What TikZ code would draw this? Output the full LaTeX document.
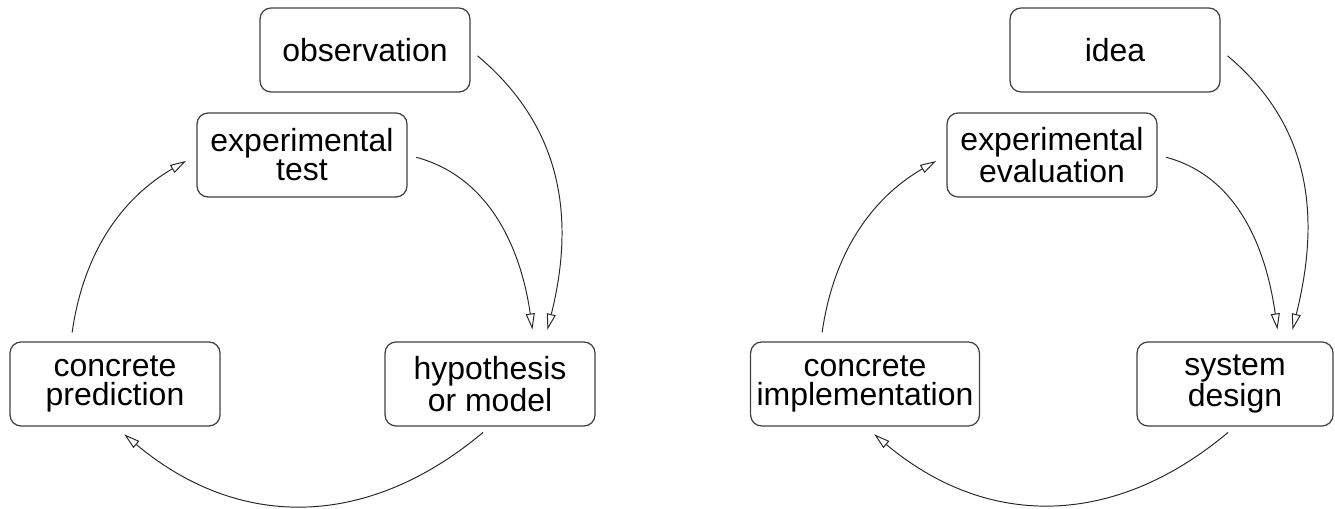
\documentclass[tikz,border=0pt]{standalone}
\usepackage{fontspec}
\setmainfont{Liberation Sans}
\usetikzlibrary{arrows.meta}
\begin{document}
\begin{tikzpicture}[x=0.02cm, y=0.02cm,
    box/.style={draw=black!75, line width=0.7pt, rounded corners=0.22cm, minimum height=1.68cm,
      inner xsep=0.12cm, align=center, font=\fontsize{18.2}{16.5}\selectfont},
    edge/.style={draw=black!85, line width=0.55pt, -{Triangle[open, length=0.32cm, width=0.18cm]},
      shorten <=0.18cm, shorten >=0.24cm}]
    \useasboundingbox (0,0) rectangle (1335,509);
    \foreach \name/\x/\y/\w/\txt in {obs/365/459/4.2/observation, test/302/354/4.2/{experimental\\test},
      pred/115/125/4.2/{concrete\\prediction}, hyp/490/125/4.2/{hypothesis\\or model},
      idea/1115/459/4.2/idea, eval/1052/354/4.2/{experimental\\evaluation},
      impl/865/125/4.2/{concrete\\implementation}, sys/1235/125/3.92/{system\\design}}{
      \node[box, minimum width=\w cm] (\name) at (\x,\y) {\txt};
    }
    \foreach \start/\exper/\concr/\model in {obs/test/pred/hyp, idea/eval/impl/sys}{
      \draw[edge] (\start.east) to[out=-40, in=76, looseness=1.05] (\model.38);
      \draw[edge] (\exper.east) to[out=-15, in=98] (\model.44);
      \draw[edge] (\model.south) to[out=-140, in=-40, looseness=1.1] (\concr.south);
      \draw[edge] (\concr.136) to[out=82, in=210] (\exper.west);
    }
\end{tikzpicture}
\end{document}
